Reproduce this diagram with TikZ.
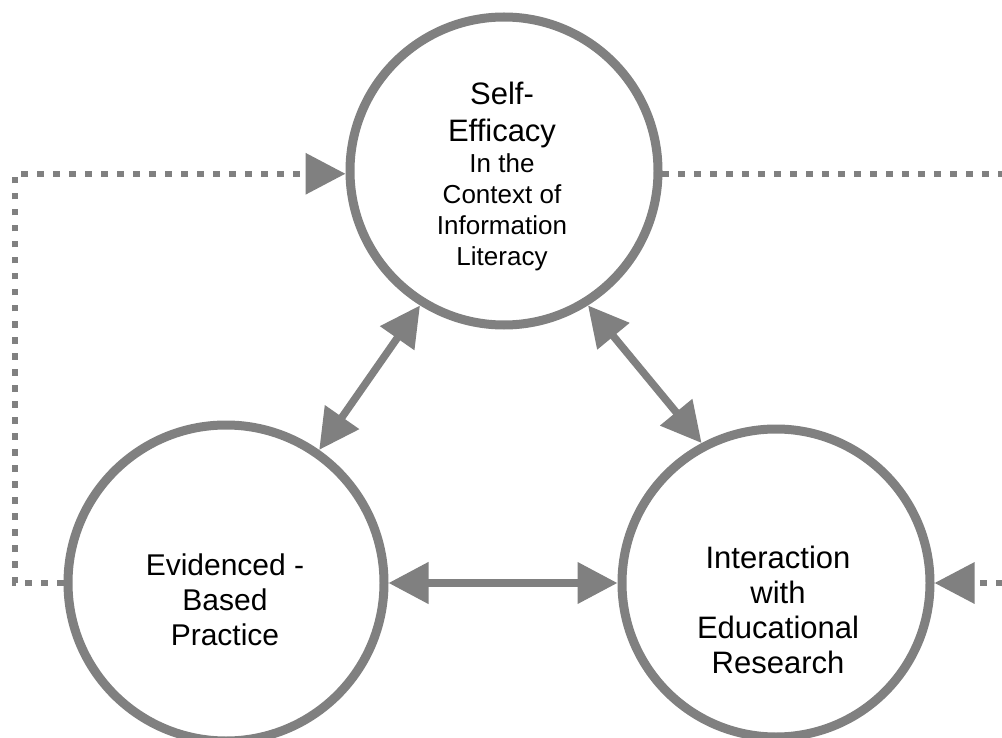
\documentclass[tikz,border=0pt]{standalone}
\usepackage{fontspec}
\setmainfont{Liberation Sans}
\usetikzlibrary{arrows.meta}
\definecolor{ring}{HTML}{808080}
\tikzset{
  x=1pt, y=-1pt,
  ringnode/.style={circle, draw=ring, line width=9pt, inner sep=0pt},
  link/.style={draw=ring, line width=7.5pt,
    {Triangle[length=40pt,width=40pt]}-{Triangle[length=40pt,width=40pt]}},
  feedback/.style={draw=ring, line width=6.5pt, line cap=butt,
    dash pattern=on 6.5pt off 9.5pt, -{Triangle[length=40pt,width=40pt]}},
  label/.style={inner sep=0pt, align=center, anchor=north},
}
\begin{document}
\begin{tikzpicture}
\useasboundingbox (0,0) rectangle (1002,738);
\clip (0,0) rectangle (1002,738);
\fill[white] (0,0) rectangle (1002,738);

% the three concepts
\node[ringnode, minimum size=308pt] (top) at (504,171) {};
\node[ringnode, minimum size=316pt] (left) at (226,583) {};
\node[ringnode, minimum size=308pt] (right) at (776,583) {};

% captions
\node[label, font=\fontsize{31}{37}\selectfont] (topA) at (502,82) {Self-\\Efficacy};
\node[label, font=\fontsize{26}{31}\selectfont] (topB) at (502,153) {In the\\Context of\\Information\\Literacy};
\node[label, font=\fontsize{30}{35}\selectfont] (leftT) at (225,554) {Evidenced -\\Based\\Practice};
\node[label, font=\fontsize{31}{35}\selectfont] (rightT) at (778,546) {Interaction\\with\\Educational\\Research};

% mutual influences
\draw[link] (top.238) -- (left.55);
\draw[link] (top.302) -- (right.118);
\draw[link] (left) -- (right);

% feedback loops
\coordinate (lcorner) at (15,583);
\coordinate (rcorner) at (1012,583);
\draw[feedback] (left.west) -- (lcorner) |- (top.181);
\draw[feedback] (top.359) -| (rcorner) -- (right.east);
\end{tikzpicture}
\end{document}
